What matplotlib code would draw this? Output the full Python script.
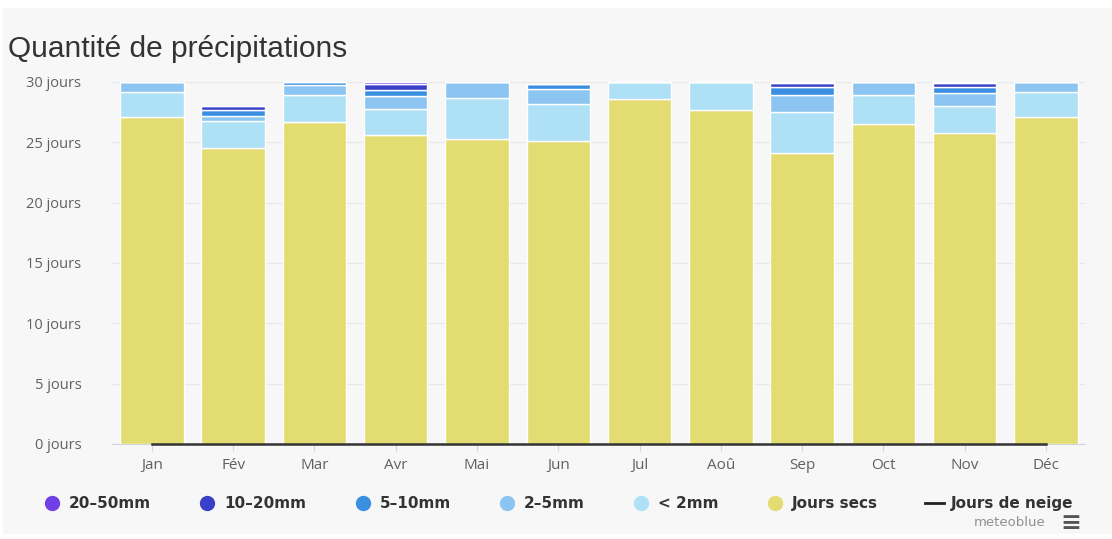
import matplotlib
matplotlib.use("Agg")
import matplotlib.pyplot as plt
from matplotlib.lines import Line2D
from matplotlib.patches import Rectangle
import numpy as np

months = ["Jan", "Fév", "Mar", "Avr", "Mai", "Jun", "Jul", "Aoû", "Sep", "Oct", "Nov", "Déc"]

# days per month for each class
dry    = [27.1, 24.5, 26.7, 25.6, 25.25, 25.1, 28.6, 27.7, 24.1, 26.5, 25.8, 27.1]
lt2mm  = [2.1, 2.25, 2.2, 2.2, 3.45, 3.1, 1.4, 2.3, 3.4, 2.4, 2.25, 2.1]
mm2_5  = [0.8, 0.45, 0.85, 1.0, 1.3, 1.2, 0.0, 0.0, 1.45, 1.1, 1.0, 0.8]
mm5_10 = [0.0, 0.45, 0.25, 0.55, 0.0, 0.4, 0.0, 0.0, 0.6, 0.0, 0.5, 0.0]
mm10_20 = [0.0, 0.35, 0.0, 0.5, 0.0, 0.0, 0.0, 0.0, 0.35, 0.0, 0.35, 0.0]
mm20_50 = [0.0, 0.0, 0.0, 0.15, 0.0, 0.0, 0.0, 0.0, 0.1, 0.0, 0.1, 0.0]
snow   = [0, 0, 0, 0, 0, 0, 0, 0, 0, 0, 0, 0]

c_dry = "#e3dc70"
c_lt2 = "#aee1f5"
c_25 = "#8cc5f1"
c_510 = "#3a8fe0"
c_1020 = "#3a40c8"
c_2050 = "#7040e6"

fig = plt.figure(figsize=(11.12, 5.39), dpi=100)
fig.patch.set_facecolor("white")
fig.patches.append(Rectangle((3 / 1112, 0.01), 1, 1 - 8 / 539 - 0.01, transform=fig.transFigure,
                             facecolor="#f7f7f7", edgecolor="none", zorder=-10))

ax = fig.add_axes([0.1007, 0.1763, 0.875, 0.6716])
ax.set_facecolor("#f7f7f7")

x = np.arange(len(months))
w = 0.78
bottom = np.zeros(len(months))
for vals, col in [(dry, c_dry), (lt2mm, c_lt2), (mm2_5, c_25), (mm5_10, c_510),
                  (mm10_20, c_1020), (mm20_50, c_2050)]:
    v = np.array(vals)
    ax.bar(x, v, w, bottom=bottom, color=col, edgecolor="white", linewidth=1.0, zorder=3)
    bottom += v

ax.plot(x, snow, color="#333333", linewidth=1.8, zorder=4, clip_on=False)

ax.set_xlim(-0.49, 11.48)
ax.set_ylim(0, 30)
ax.set_yticks(range(0, 31, 5))
ax.set_yticklabels([f"{t} jours" for t in range(0, 31, 5)], fontsize=10.5, color="#606060",
                   family=["Open Sans", "DejaVu Sans"])
ax.set_xticks(x)
ax.set_xticklabels(months, fontsize=11, color="#606060", family=["Open Sans", "DejaVu Sans"])
ax.grid(axis="y", color="#e8e8e8", linewidth=1, zorder=0)
for s in ["top", "right", "left"]:
    ax.spines[s].set_visible(False)
ax.spines["bottom"].set_color("#cfd6e0")
ax.tick_params(axis="y", length=0, pad=22)
ax.tick_params(axis="x", length=5, color="#cfd6e0", pad=5)

fig.text(0.007, 0.91, "Quantité de précipitations", fontsize=21.5, color="#333333",
         family=["Liberation Sans", "DejaVu Sans"], va="center")

handles = [
    Line2D([], [], marker="o", ls="none", markersize=10, color=c_2050),
    Line2D([], [], marker="o", ls="none", markersize=10, color=c_1020),
    Line2D([], [], marker="o", ls="none", markersize=10, color=c_510),
    Line2D([], [], marker="o", ls="none", markersize=10, color=c_25),
    Line2D([], [], marker="o", ls="none", markersize=10, color=c_lt2),
    Line2D([], [], marker="o", ls="none", markersize=10, color=c_dry),
    Line2D([], [], color="#222222", linewidth=2),
]
labels = ["20–50mm", "10–20mm", "5–10mm", "2–5mm", "< 2mm", "Jours secs", "Jours de neige"]
leg = fig.legend(handles, labels, loc="center", bbox_to_anchor=(0.502, 0.066), ncol=7,
                 frameon=False, handlelength=1.2, handletextpad=0.5, columnspacing=3.1,
                 prop={"family": ["DejaVu Sans"], "weight": "bold", "size": 11})
for t in leg.get_texts():
    t.set_color("#333333")

fig.text(0.94, 0.03, "meteoblue", fontsize=9.5, color="#909090", ha="right", va="center",
         family=["DejaVu Sans"])
fig.text(0.963, 0.03, "≡", fontsize=18, color="#555555", ha="center", va="center", weight="bold")

fig.savefig("out.png", dpi=100, facecolor=fig.get_facecolor())
